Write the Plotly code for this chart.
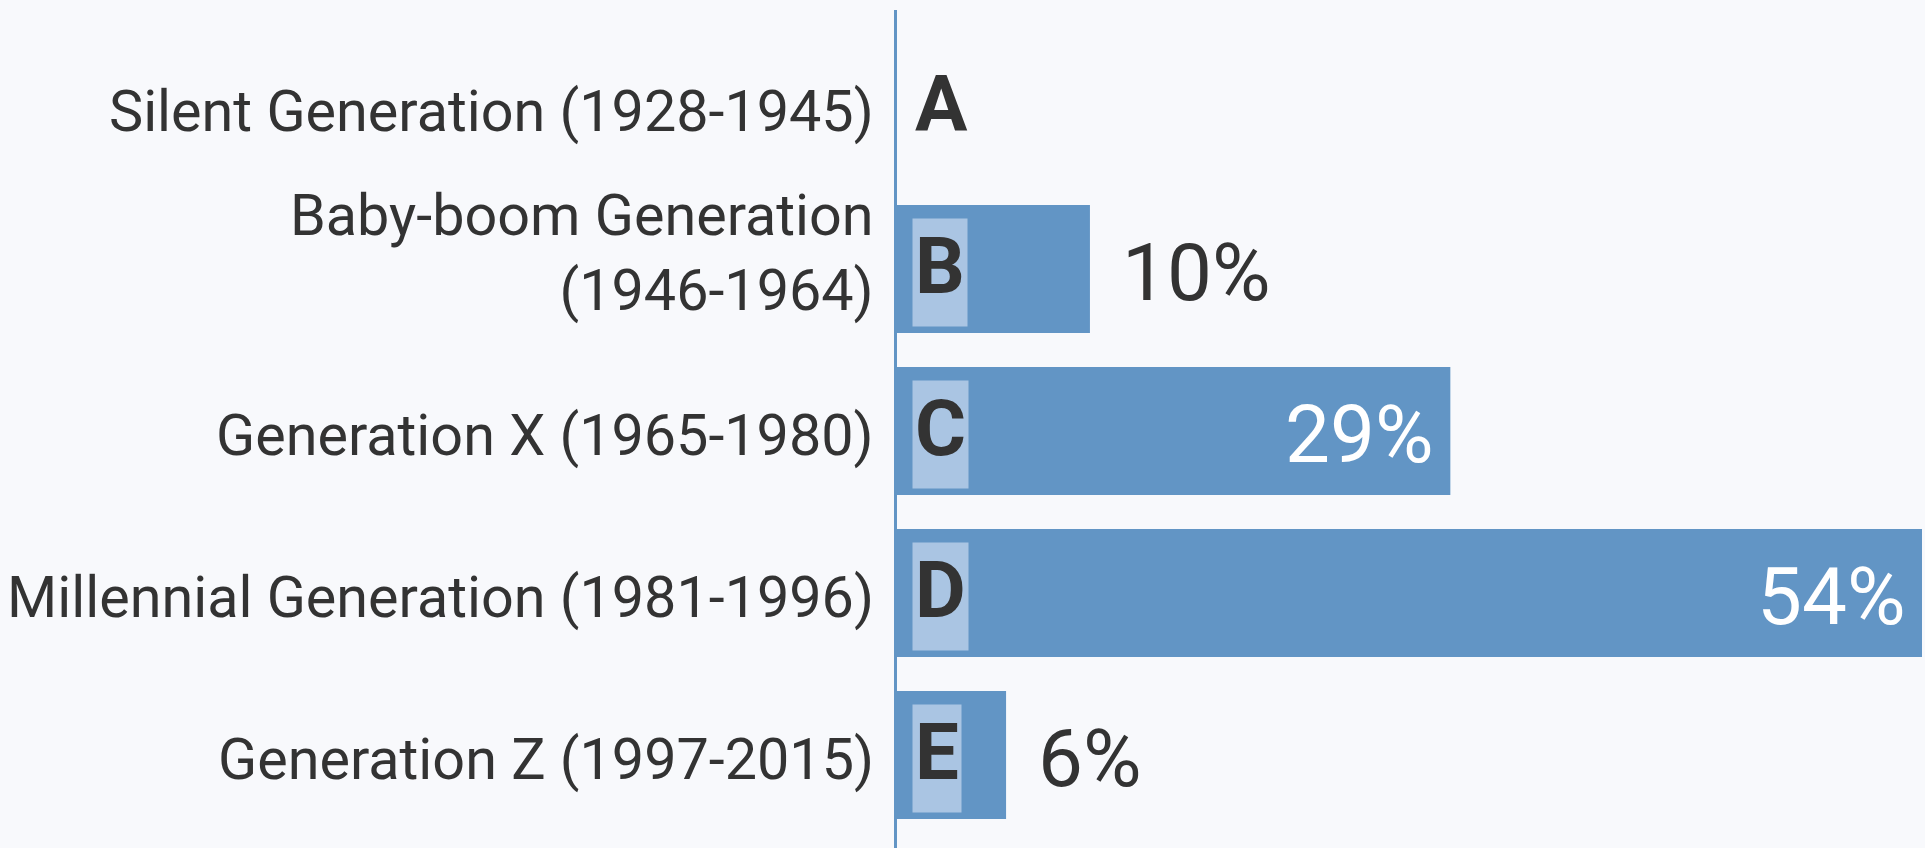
import plotly.graph_objects as go

categories = [
    "Silent Generation (1928-1945)",
    "Baby-boom Generation<br>(1946-1964)",
    "Generation X (1965-1980)",
    "Millennial Generation (1981-1996)",
    "Generation Z (1997-2015)",
]
letters = ["A", "B", "C", "D", "E"]
values = [0, 10.25, 29.2, 54.0, 5.84]
value_labels = ["", "10%", "29%", "54%", "6%"]

BAR = "#6295c5"
BOX = "#aac5e3"
BG = "#f8f9fc"
TEXT = "#333333"
FONT = "Roboto"

fig = go.Figure()
fig.add_trace(go.Bar(
    x=values, y=categories, orientation="h",
    marker=dict(color=BAR, line=dict(width=0)),
    width=0.79, hoverinfo="skip",
))

# category labels (left of the axis)
for cat in categories:
    multi = "<br>" in cat
    fig.add_annotation(
        x=0, xref="paper", y=cat, yref="y", text=cat, showarrow=False,
        xanchor="right", align="right", xshift=-19,
        yshift=16 if multi else -4,
        font=dict(family=FONT, size=57.5, color=TEXT),
    )

# letter badges
for cat, let, v in zip(categories, letters, values):
    fig.add_annotation(
        x=0, y=cat, xref="x", yref="y", text="<b>%s</b>" % let,
        showarrow=False, xanchor="left", xshift=17, yshift=-3,
        font=dict(family=FONT, size=78, color=TEXT),
        bgcolor=BOX if v > 0 else "rgba(0,0,0,0)",
        height=103, borderpad=2, valign="top",
    )

# value labels
for cat, v, lab in zip(categories, values, value_labels):
    if not lab:
        continue
    inside = v > 20
    fig.add_annotation(
        x=v, y=cat, xref="x", yref="y", text=lab, showarrow=False,
        xanchor="right" if inside else "left",
        xshift=-14 if inside else 30, yshift=-4,
        font=dict(family=FONT, size=80, color="white" if inside else TEXT),
    )

fig.update_layout(
    width=1925, height=848,
    margin=dict(l=895, r=3, t=10, b=0),
    paper_bgcolor=BG, plot_bgcolor=BG,
    showlegend=False,
    xaxis=dict(range=[0, 54], showgrid=False, showticklabels=False,
               zeroline=True, zerolinecolor=BAR, zerolinewidth=3, fixedrange=True),
    yaxis=dict(type="category", range=[4.574, -0.599], showgrid=False,
               ticks="", showticklabels=False, automargin=False, fixedrange=True),
)

fig.write_html(
    "out.html",
    config={"displayModeBar": False},
    post_script="document.body.style.margin='0';document.body.style.background='%s';"
                "document.body.style.overflow='hidden';" % BG,
)
